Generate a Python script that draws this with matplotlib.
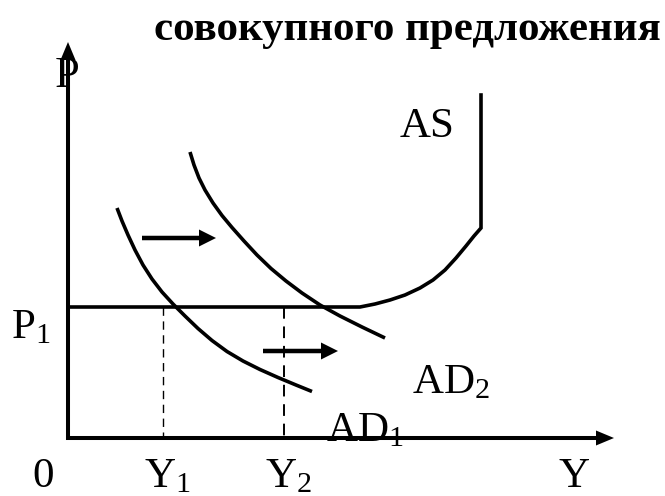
import numpy as np
import matplotlib.pyplot as plt

plt.rcParams['font.family'] = ['Liberation Serif', 'DejaVu Serif']
plt.rcParams['mathtext.fontset'] = 'custom'
plt.rcParams['mathtext.rm'] = 'Liberation Serif'
plt.rcParams['mathtext.default'] = 'regular'

# curve points (picture coordinates, y grows downwards)
ad1_x = [117, 122, 128, 135, 143, 152, 162, 173, 185, 198, 212, 227, 243, 260, 278, 296, 312]
ad1_y = [208, 221, 235, 250, 265, 279, 292, 304, 316, 328.5, 340.5, 351.5, 361, 369.5, 377.5, 385, 391.5]
ad2_x = [190, 194, 199, 205, 213, 222, 232, 244, 257, 271, 286, 302, 320, 340, 362, 385]
ad2_y = [152, 165, 178, 190, 203, 215.5, 227.5, 241, 255, 268.5, 281, 293, 305, 316, 327, 338]
as_x = [68, 360, 375, 390, 405, 420, 433, 445, 456, 466, 474, 481, 481]
as_y = [307, 307, 304, 300, 295, 288, 280, 270, 258, 246, 236, 228, 95]
p1 = 307
y1, y2 = 163, 284
title = "совокупного предложения"

fig = plt.figure(figsize=(6.65, 4.96), dpi=100)
ax = fig.add_axes([0, 0, 1, 1])
ax.set_xlim(0, 665)
ax.set_ylim(496, 0)
ax.axis('off')

lw = 2.6
# axes with arrows
ax.plot([68, 68, 600], [60, 438, 438], color='black', lw=2.9,
        solid_joinstyle='miter', solid_capstyle='butt')
ax.arrow(68, 62, 0, -20, width=0.5, head_width=15, head_length=18,
         length_includes_head=True, color='black', lw=0)
ax.arrow(598, 438, 16, 0, width=0.5, head_width=15, head_length=18,
         length_includes_head=True, color='black', lw=0)

ax.plot(ad1_x, ad1_y, color='black', lw=lw, solid_capstyle='butt')
ax.plot(ad2_x, ad2_y, color='black', lw=lw, solid_capstyle='butt')
ax.plot(as_x, as_y, color='black', lw=lw, solid_joinstyle='miter')

# dashed guides
ax.plot([y1, y1], [p1, 438], color='black', lw=1.0, ls=(0, (6, 4)))
ax.plot([y2, y2], [p1, 438], color='black', lw=1.4, ls=(0, (6, 4)))

# shift arrows
ax.arrow(142, 238, 74, 0, width=4.5, head_width=17, head_length=17,
         length_includes_head=True, color='black', lw=0)
ax.arrow(263, 351, 75, 0, width=4.5, head_width=17, head_length=17,
         length_includes_head=True, color='black', lw=0)

fs = 31
ax.text(407, 11, title, fontsize=31, fontweight='bold', ha='center', va='top')
ax.text(67, 87, 'P', fontsize=fs + 1, ha='center', va='baseline')
ax.text(11, 338, 'P$_1$', fontsize=fs, ha='left', va='baseline')
ax.text(427, 137, 'AS', fontsize=fs, ha='center', va='baseline')
ax.text(412, 393, 'AD$_2$', fontsize=fs, ha='left', va='baseline')
ax.text(326, 441, 'AD$_1$', fontsize=fs, ha='left', va='baseline')
ax.text(43, 487, '0', fontsize=fs, ha='center', va='baseline')
ax.text(y1 + 4, 487, 'Y$_1$', fontsize=fs, ha='center', va='baseline')
ax.text(y2 + 4, 487, 'Y$_2$', fontsize=fs, ha='center', va='baseline')
ax.text(574, 487, 'Y', fontsize=fs, ha='center', va='baseline')

fig.savefig('out.png', dpi=100)
